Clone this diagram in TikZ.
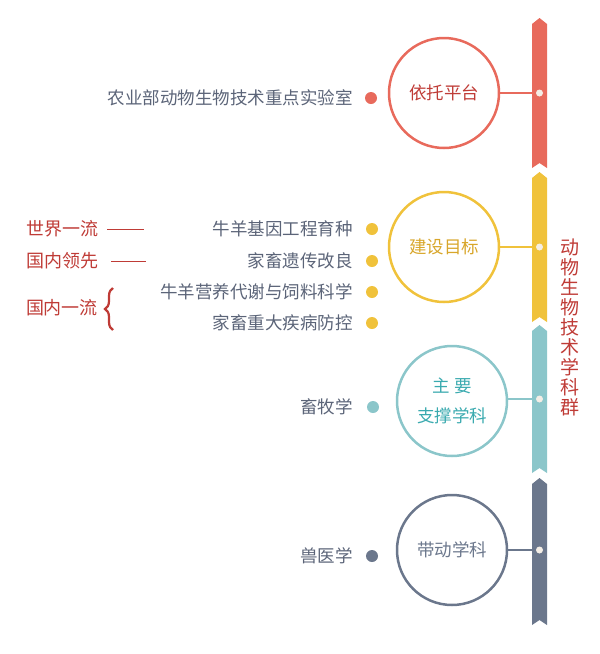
\documentclass[tikz,border=0pt]{standalone}
\usepackage{fontspec}
\setmainfont{Noto Sans CJK SC}
\usetikzlibrary{decorations.pathreplacing}
\definecolor{cred}{HTML}{E86A5C}
\definecolor{cyel}{HTML}{F0C23B}
\definecolor{ctea}{HTML}{8BC6CA}
\definecolor{cslt}{HTML}{6B778C}
\definecolor{tred}{HTML}{BF3B36}
\definecolor{tyel}{HTML}{D8A62A}
\definecolor{ttea}{HTML}{3AAAAF}
\definecolor{cgrey}{HTML}{5B6478}
\definecolor{cdot}{HTML}{F4EEE6}

\begin{document}
\begin{tikzpicture}[x=1pt,y=-1pt,
  ring/.style={circle,draw=#1,line width=2.5pt,minimum size=110pt,inner sep=0pt,align=center,font=\fontsize{17.5}{30}\selectfont},
  bullet/.style={circle,fill=#1,minimum size=12pt,inner sep=0pt},
  pin/.style={circle,fill=cdot,minimum size=7pt,inner sep=0pt},
  item/.style={anchor=east,text=cgrey,inner sep=0pt,font=\fontsize{17.5}{20}\selectfont},
  rank/.style={text=tred,inner sep=0pt,font=\fontsize{18}{20}\selectfont}]
\useasboundingbox (0,0) rectangle (600,654);

% ribbon
\foreach \c/\t/\b in {cred/18/168, cyel/172/322, ctea/325/473, cslt/478/625}
  \fill[\c] (532,\t+6) -- (539.5,\t) -- (547,\t+6) -- (547,\b) -- (539.5,\b-5) -- (532,\b) -- cycle;
\node[pin] (p1) at (539.5,93) {};
\node[pin] (p2) at (539.5,247) {};
\node[pin] (p3) at (539.5,399) {};
\node[pin] (p4) at (539.5,550) {};

\node[ring=cred,text=tred] (plat) at (444,93) {依托平台};
\node[ring=cyel,text=tyel] (goal) at (444,247) {建设目标};
\node[ring=ctea,text=ttea] (supp) at (452,401) {主\;要\\支撑学科};
\node[ring=cslt,text=cslt] (lead) at (452,550) {带动学科};
\draw[cred,line width=1.5pt] (plat) -- (p1);
\draw[cyel,line width=1.5pt] (goal) -- (p2);
\draw[ctea,line width=1.5pt] (supp.east |- p3) -- (p3);
\draw[cslt,line width=1.5pt] (lead) -- (p4);

\node[rank,align=center,font=\fontsize{19}{20}\selectfont] (title) at (570,327) {动\\物\\生\\物\\技\\术\\学\\科\\群};

% items
\node[bullet=cred] (b1) at (371,98) {};
\node[item] (lab) at (353,98) {农业部动物生物技术重点实验室};
\node[bullet=cyel] (b2) at (372,229) {};
\node[item] (gene) at (353,229) {牛羊基因工程育种};
\node[bullet=cyel] (b3) at (372,261) {};
\node[item] (impr) at (353,261) {家畜遗传改良};
\node[bullet=cyel] (b4) at (372,292) {};
\node[item] (feed) at (353,292) {牛羊营养代谢与饲料科学};
\node[bullet=cyel] (b5) at (372,323) {};
\node[item] (dise) at (353,323) {家畜重大疾病防控};
\node[bullet=ctea] (b6) at (373,407) {};
\node[item] (anim) at (353,407) {畜牧学};
\node[bullet=cslt] (b7) at (372,556) {};
\node[item] (vet) at (353,556) {兽医学};

\node[rank] (world) at (63,229) {世界一流};
\node[rank] (lead1) at (63,261) {国内领先};
\node[rank] (first) at (62,308) {国内一流};
\draw[tred,line width=0.8pt] ([xshift=8pt]world.east) -- ++(37,0);
\draw[tred,line width=0.8pt] ([xshift=12pt]lead1.east) -- ++(35,0);
\draw[tred,line width=2.2pt,decorate,decoration={brace,amplitude=8pt}] (113,330) -- (113,288);
\end{tikzpicture}
\end{document}
